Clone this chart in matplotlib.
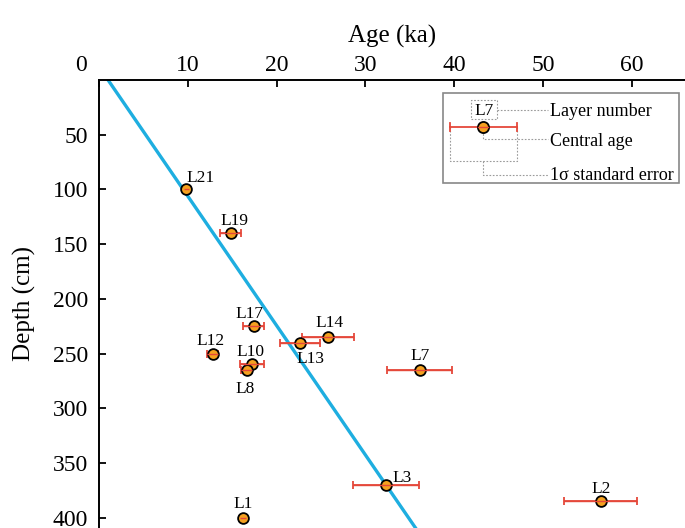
import matplotlib.pyplot as plt
import matplotlib.transforms as mtransforms
from matplotlib.patches import Rectangle
from matplotlib.lines import Line2D
import numpy as np

plt.rcParams["font.family"] = ["Liberation Serif", "DejaVu Serif"]

# OSL samples: layer, central age (ka), 1 sigma error (ka), depth (cm)
layers = ["L21", "L19", "L17", "L12", "L10", "L8", "L13", "L14", "L7", "L3", "L2", "L1"]
ages = [9.8, 14.8, 17.4, 12.8, 17.2, 16.6, 22.6, 25.8, 36.1, 32.3, 56.5, 16.2]
errors = [0.3, 1.2, 1.2, 0.6, 1.35, 0.6, 2.25, 2.9, 3.7, 3.7, 4.1, 0.3]
depths = [100, 140, 225, 250, 260, 265, 240, 235, 265, 370, 385, 400]

# label offsets in points (dx, dy)
label_offsets = {
    "L21": (10, 8), "L19": (3, 9), "L17": (-3, 9), "L12": (-2, 9), "L10": (-1, 9),
    "L8": (-1, -14), "L13": (8, -12), "L14": (1, 10), "L7": (0, 10), "L3": (12, 5),
    "L2": (0, 9), "L1": (0, 10),
}

# age-depth trend line
trend_depth = [0, 420]
trend_age = [1.0, 1.0 + 0.0846 * 420]

line_color = "#1eaee0"
err_color = "#e5483a"
face_color = "#f4a11f"

fig = plt.figure(figsize=(6.85, 5.28), dpi=100)
ax = fig.add_axes([0.1448, 0.0, 0.8552, 0.8485])

ax.plot(trend_age, trend_depth, color=line_color, lw=2.4, zorder=1)
ax.errorbar(ages, depths, xerr=errors, fmt="none", ecolor=err_color, elinewidth=1.3,
            capsize=3, capthick=1.3, zorder=2)
ax.scatter(ages, depths, s=60, c=face_color, edgecolors="black", linewidths=1.3, zorder=3)
ax.errorbar(ages, depths, xerr=errors, fmt="none", ecolor=err_color, elinewidth=1.0,
            capsize=0, zorder=4)

for name, a, d in zip(layers, ages, depths):
    dx, dy = label_offsets[name]
    ax.annotate(name, (a, d), xytext=(dx, dy), textcoords="offset points",
                ha="center", va="center", fontsize=12.5)

ax.set_xlim(0, 66)
ax.set_ylim(409.5, 0)
ax.xaxis.set_ticks_position("top")
ax.xaxis.set_label_position("top")
ax.set_xticks(np.arange(0, 61, 10))
ax.set_yticks(np.arange(50, 401, 50))
ax.tick_params(axis="both", direction="in", length=5, width=1.3, labelsize=17)
ax.tick_params(axis="x", pad=3)
ax.tick_params(axis="y", pad=8)
ax.set_xlabel("Age (ka)", fontsize=18, labelpad=9)
ax.set_ylabel("Depth (cm)", fontsize=18, labelpad=12)
for side in ["right", "bottom"]:
    ax.spines[side].set_visible(False)
for side in ["top", "left"]:
    ax.spines[side].set_linewidth(1.4)

# shift the "0" label clear of the corner
shift = mtransforms.ScaledTranslation(-18 / 100, 0, fig.dpi_scale_trans)
first = ax.get_xticklabels()[0]
first.set_transform(first.get_transform() + shift)

# explanatory key box (figure pixel coordinates)
def px(x, y):
    return x / 685, 1 - y / 528

def seg(points, **kw):
    xs, ys = zip(*[px(x, y) for x, y in points])
    fig.add_artist(Line2D(xs, ys, transform=fig.transFigure, **kw))

x0, y0 = px(443, 183)
x1, y1 = px(679, 93)
fig.add_artist(Rectangle((x0, y0), x1 - x0, y1 - y0, transform=fig.transFigure,
                         fill=False, edgecolor="#888888", lw=1.2))
dot = dict(color="#9a9a9a", lw=0.8, ls=(0, (1.5, 1.5)))
bx0, by0 = px(471, 119)
bx1, by1 = px(497, 100)
fig.add_artist(Rectangle((bx0, by0), bx1 - bx0, by1 - by0, transform=fig.transFigure,
                         fill=False, edgecolor="#9a9a9a", lw=0.8, ls=(0, (1.5, 1.5))))
fig.text(*px(484, 111), "L7", ha="center", va="center", fontsize=12.5)
seg([(497, 110), (548, 110)], **dot)
seg([(483, 127), (483, 139), (548, 139)], **dot)
seg([(450, 127), (450, 161), (517, 161), (517, 127)], **dot)
seg([(483, 161), (483, 175), (548, 175)], **dot)
seg([(450, 127), (517, 127)], color=err_color, lw=1.3)
seg([(450, 123), (450, 131)], color=err_color, lw=1.3)
seg([(517, 123), (517, 131)], color=err_color, lw=1.3)
mx, my = px(483, 127)
fig.add_artist(Line2D([mx], [my], transform=fig.transFigure, marker="o", ms=8,
                      mfc=face_color, mec="black", mew=1.3))
seg([(478, 127), (488, 127)], color=err_color, lw=1.0)
fig.text(*px(550, 111), "Layer number", ha="left", va="center", fontsize=13)
fig.text(*px(550, 141), "Central age", ha="left", va="center", fontsize=13)
fig.text(*px(550, 176), "1σ standard error", ha="left", va="center", fontsize=13)

fig.savefig("out.png", dpi=100)
